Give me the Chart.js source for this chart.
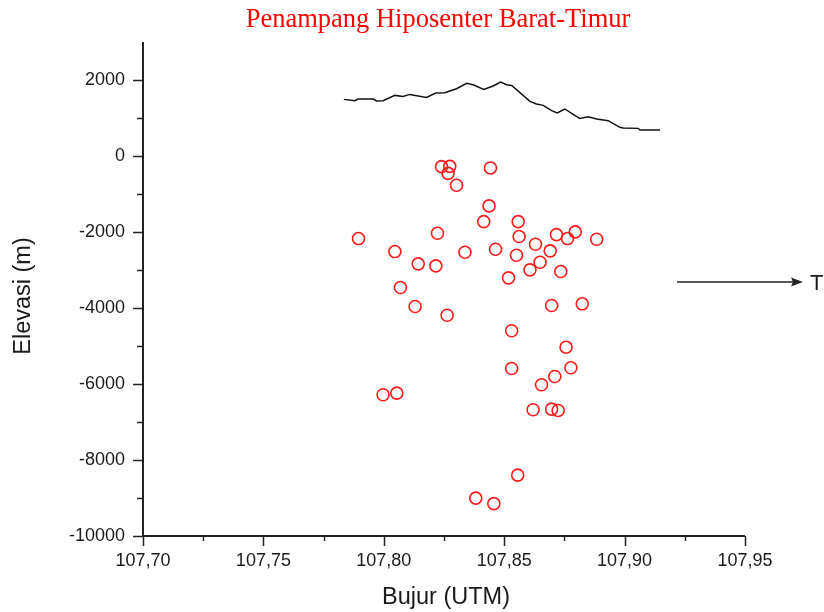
<!DOCTYPE html>
<html>
<head>
<meta charset="utf-8">
<title>Penampang Hiposenter Barat-Timur</title>
<script src="https://cdn.jsdelivr.net/npm/chart.js@4/dist/chart.umd.min.js"></script>
<style>
    html, body { margin: 0; padding: 0; background: #ffffff; }
    #wrap { width: 824px; height: 612px; }
</style>
</head>
<body>
<div id="wrap"><canvas id="sectionChart" width="824" height="612"></canvas></div>
<script>
const chartTitle = "Penampang Hiposenter Barat-Timur";
const xTitle = "Bujur (UTM)";
const yTitle = "Elevasi (m)";
const arrowLabel = "T";

// topography profile along the section
const topoLon = [107.7834, 107.7880, 107.7893, 107.7956, 107.7970, 107.7997, 107.8046, 107.8080,
    107.8108, 107.8177, 107.8216, 107.8253, 107.8302, 107.8344, 107.8371, 107.8415, 107.8454,
    107.8485, 107.8510, 107.8531, 107.8607, 107.8634, 107.8662, 107.8697, 107.8720, 107.8752,
    107.8780, 107.8814, 107.8849, 107.8884, 107.8932, 107.8980, 107.8994, 107.9057, 107.9064,
    107.9147];
const topoElev = [1490, 1456, 1500, 1500, 1448, 1456, 1595, 1569, 1621, 1542, 1658, 1666, 1771,
    1911, 1876, 1753, 1842, 1947, 1876, 1858, 1437, 1369, 1332, 1193, 1132, 1237, 1122, 990,
    1035, 975, 930, 754, 738, 727, 685, 685];

// hypocenters
const quakeLon = [107.8240, 107.8274, 107.8267, 107.8443, 107.8302, 107.8437, 107.8415, 107.8558,
    107.7895, 107.8223, 107.8562, 107.8717, 107.8763, 107.8795, 107.8884, 107.8046, 107.8337,
    107.8464, 107.8630, 107.8691, 107.8551, 107.8143, 107.8216, 107.8649, 107.8607, 107.8735,
    107.8518, 107.8069, 107.8130, 107.8263, 107.8697, 107.8824, 107.8531, 107.8757, 107.8531,
    107.8777, 107.8710, 107.8655, 107.7997, 107.8054, 107.8620, 107.8697, 107.8724, 107.8556,
    107.8382, 107.8457];
const quakeElev = [-280, -272, -456, -314, -771, -1313, -1726, -1726, -2173, -2034, -2120, -2068,
    -2173, -1997, -2191, -2515, -2533, -2454, -2323, -2496, -2612, -2838, -2891, -2796, -2996,
    -3041, -3206, -3461, -3961, -4190, -3935, -3890, -4600, -5031, -5591, -5573, -5802, -6020,
    -6283, -6241, -6677, -6662, -6696, -8397, -9002, -9149];

const xTicks = [107.70, 107.725, 107.75, 107.775, 107.80, 107.825, 107.85, 107.875, 107.90, 107.925, 107.95];
const yTicks = [-10000, -9000, -8000, -7000, -6000, -5000, -4000, -3000, -2000, -1000, 0, 1000, 2000];

const axisColor = "#222222";
const textColor = "#1a1a1a";

const isMajorX = (v) => Math.abs(Math.round(v * 20) - v * 20) < 1e-6;
const isMajorY = (v) => v % 2000 === 0;

const decorations = {
    id: "decorations",
    afterDraw(chart) {
        const ctx = chart.ctx;
        const xs = chart.scales.x;
        const ys = chart.scales.y;
        const area = chart.chartArea;

        ctx.save();
        ctx.strokeStyle = axisColor;
        ctx.lineWidth = 2;
        ctx.lineCap = "butt";

        // axis lines
        ctx.beginPath();
        ctx.moveTo(area.left, area.top);
        ctx.lineTo(area.left, area.bottom);
        ctx.lineTo(area.right, area.bottom);
        ctx.stroke();

        // tick marks
        ctx.lineWidth = 1.5;
        ctx.beginPath();
        xTicks.forEach((v) => {
            const px = Math.round(xs.getPixelForValue(v)) + 0.5;
            const len = isMajorX(v) ? 10 : 5;
            ctx.moveTo(px, area.bottom);
            ctx.lineTo(px, area.bottom + len);
        });
        yTicks.forEach((v) => {
            const py = Math.round(ys.getPixelForValue(v)) + 0.5;
            const len = isMajorY(v) ? 10 : 6;
            ctx.moveTo(area.left, py);
            ctx.lineTo(area.left - len, py);
        });
        ctx.stroke();

        // title
        ctx.fillStyle = "#ff0000";
        ctx.font = "26.5px 'Liberation Serif', 'Times New Roman', serif";
        ctx.textAlign = "center";
        ctx.textBaseline = "alphabetic";
        ctx.fillText(chartTitle, 438, 27);

        // axis titles
        ctx.fillStyle = textColor;
        ctx.font = "23.5px 'Liberation Sans', Arial, sans-serif";
        ctx.textBaseline = "middle";
        ctx.fillText(xTitle, 446, 598);
        ctx.save();
        ctx.translate(24, 296);
        ctx.rotate(-Math.PI / 2);
        ctx.fillText(yTitle, 0, 0);
        ctx.restore();

        // east arrow
        const ay = 282;
        ctx.strokeStyle = axisColor;
        ctx.lineWidth = 1.5;
        ctx.beginPath();
        ctx.moveTo(677, ay);
        ctx.lineTo(795, ay);
        ctx.stroke();
        ctx.fillStyle = axisColor;
        ctx.beginPath();
        ctx.moveTo(803, ay);
        ctx.lineTo(791, ay - 4.5);
        ctx.lineTo(793, ay);
        ctx.lineTo(791, ay + 4.5);
        ctx.closePath();
        ctx.fill();
        ctx.fillStyle = textColor;
        ctx.font = "22px 'Liberation Sans', Arial, sans-serif";
        ctx.textAlign = "left";
        ctx.fillText(arrowLabel, 810, ay + 2);

        ctx.restore();
    },
};

new Chart(document.getElementById("sectionChart").getContext("2d"), {
    type: "scatter",
    data: {
        datasets: [
            {
                type: "line",
                data: topoLon.map((x, i) => ({ x: x, y: topoElev[i] })),
                borderColor: "#111111",
                borderWidth: 1.5,
                pointRadius: 0,
                tension: 0,
                fill: false,
            },
            {
                data: quakeLon.map((x, i) => ({ x: x, y: quakeElev[i] })),
                borderColor: "#ff1a1a",
                backgroundColor: "rgba(0,0,0,0)",
                borderWidth: 1.6,
                pointRadius: 6,
                pointHoverRadius: 6,
            },
        ],
    },
    options: {
        responsive: false,
        animation: false,
        events: [],
        layout: { padding: { top: 42, right: 79, left: 0, bottom: 0 } },
        plugins: {
            legend: { display: false },
            tooltip: { enabled: false },
            title: { display: false },
        },
        scales: {
            x: {
                type: "linear",
                min: 107.7,
                max: 107.95,
                afterBuildTicks: (scale) => {
                    scale.ticks = xTicks.map((v) => ({ value: v }));
                },
                afterFit: (scale) => {
                    scale.height = 76;
                },
                grid: { display: true, drawOnChartArea: false, drawTicks: false },
                border: { display: false },
                ticks: {
                    autoSkip: false,
                    maxRotation: 0,
                    padding: 14,
                    color: textColor,
                    font: { family: "'Liberation Sans', Arial, sans-serif", size: 18 },
                    callback: (v) => (isMajorX(v) ? v.toFixed(2).replace(".", ",") : ""),
                },
            },
            y: {
                type: "linear",
                min: -10000,
                max: 3000,
                afterBuildTicks: (scale) => {
                    scale.ticks = yTicks.map((v) => ({ value: v }));
                },
                afterFit: (scale) => {
                    scale.width = 143;
                },
                grid: { display: true, drawOnChartArea: false, drawTicks: false },
                border: { display: false },
                ticks: {
                    autoSkip: false,
                    padding: 18,
                    color: textColor,
                    font: { family: "'Liberation Sans', Arial, sans-serif", size: 18 },
                    callback: (v) => (isMajorY(v) ? String(v) : ""),
                },
            },
        },
    },
    plugins: [decorations],
});
</script>
</body>
</html>
